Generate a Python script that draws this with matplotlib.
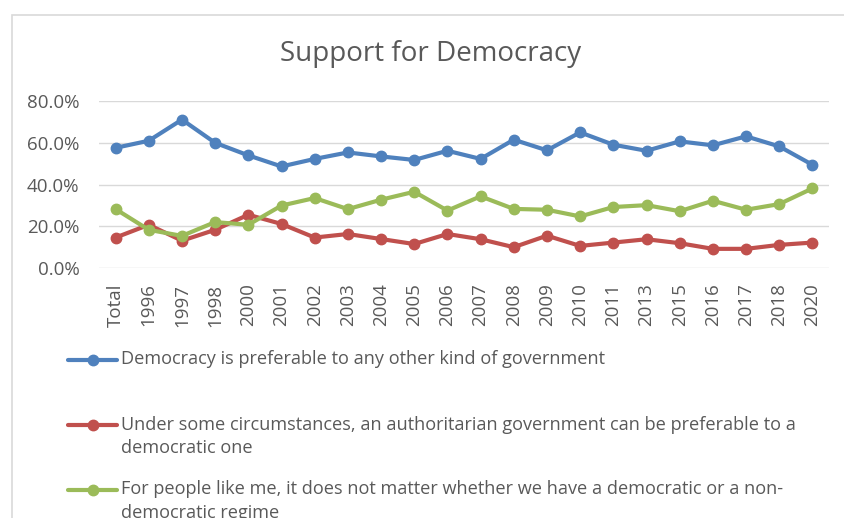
import matplotlib
matplotlib.use('Agg')
import matplotlib.pyplot as plt
from matplotlib.lines import Line2D
from matplotlib.patches import Rectangle
from matplotlib.ticker import PercentFormatter

plt.rcParams['font.family'] = ['Open Sans', 'DejaVu Sans']

years = ['Total', '1996', '1997', '1998', '2000', '2001', '2002', '2003', '2004',
         '2005', '2006', '2007', '2008', '2009', '2010', '2011', '2013', '2015',
         '2016', '2017', '2018', '2020']

democracy_preferable = [57.6, 61.0, 71.1, 60.0, 54.0, 48.7, 52.3, 55.4, 53.5, 51.8, 56.2,
                        52.3, 61.5, 56.4, 65.0, 59.1, 56.2, 60.7, 58.8, 63.1, 58.3, 49.5]
authoritarian_ok = [14.7, 20.8, 13.2, 18.4, 25.6, 21.2, 14.7, 16.4, 14.0, 11.6, 16.4,
                    13.9, 10.1, 15.6, 10.7, 12.3, 13.9, 12.0, 9.3, 9.3, 11.2, 12.3]
does_not_matter = [28.3, 18.4, 15.5, 22.1, 20.8, 30.0, 33.6, 28.3, 32.8, 36.6, 27.6,
                   34.4, 28.4, 28.0, 24.8, 29.3, 30.2, 27.3, 32.3, 28.0, 30.7, 38.2]

labels = [
    'Democracy is preferable to any other kind of government',
    'Under some circumstances, an authoritarian government can be preferable to a\ndemocratic one',
    'For people like me, it does not matter whether we have a democratic or a non-\ndemocratic regime',
]
colors = ['#4F81BD', '#C0504D', '#9BBB59']
series = [democracy_preferable, authoritarian_ok, does_not_matter]

W, H = 844, 518
TEXT = '#595959'

fig = plt.figure(figsize=(W / 100, H / 100), dpi=100)
ax = fig.add_axes([99 / W, 1 - 268.3 / H, (829 - 99) / W, (268.3 - 101) / H])

x = range(len(years))
for values, color in zip(series, colors):
    ax.plot(x, values, color=color, linewidth=3, marker='o', markersize=7.5,
            solid_capstyle='round')

ax.set_xlim(-0.5, len(years) - 0.5)
ax.set_ylim(0, 80)
ax.set_yticks([0, 20, 40, 60, 80])
ax.yaxis.set_major_formatter(PercentFormatter(decimals=1))
ax.set_xticks(list(x))
ax.set_xticklabels(years, rotation=90)
ax.grid(axis='y', color='#D9D9D9', linewidth=1)
ax.set_axisbelow(True)
for s in ax.spines.values():
    s.set_visible(False)
ax.tick_params(axis='y', length=0, pad=14, labelsize=13.5, labelcolor=TEXT)
ax.tick_params(axis='x', length=0, pad=11, labelsize=13.5, labelcolor=TEXT)

# outer chart frame (runs off the right and bottom edges)
fig.add_artist(Rectangle((12 / W, -0.1), 1.2, 1 - 15 / H + 0.1,
                         transform=fig.transFigure, fill=False,
                         edgecolor='#D9D9D9', linewidth=1.2))

fig.text(430.5 / W, 1 - 54 / H, 'Support for Democracy', ha='center', va='center',
         fontsize=20, color=TEXT)

# legend drawn by hand to keep the spacing of the entries
entry_y = [360, 425, 490]
for label, color, y in zip(labels, colors, entry_y):
    fy = 1 - y / H
    fig.add_artist(Line2D([68 / W, 117 / W], [fy, fy], transform=fig.transFigure,
                          color=color, linewidth=3, solid_capstyle='round'))
    fig.add_artist(Line2D([93 / W], [fy], transform=fig.transFigure, color=color,
                          marker='o', markersize=7.5))
    fig.text(121 / W, fy + 9.5 / H, label, ha='left', va='top', fontsize=13.1,
             color=TEXT, linespacing=1.42)

fig.savefig('out.png', dpi=100)
